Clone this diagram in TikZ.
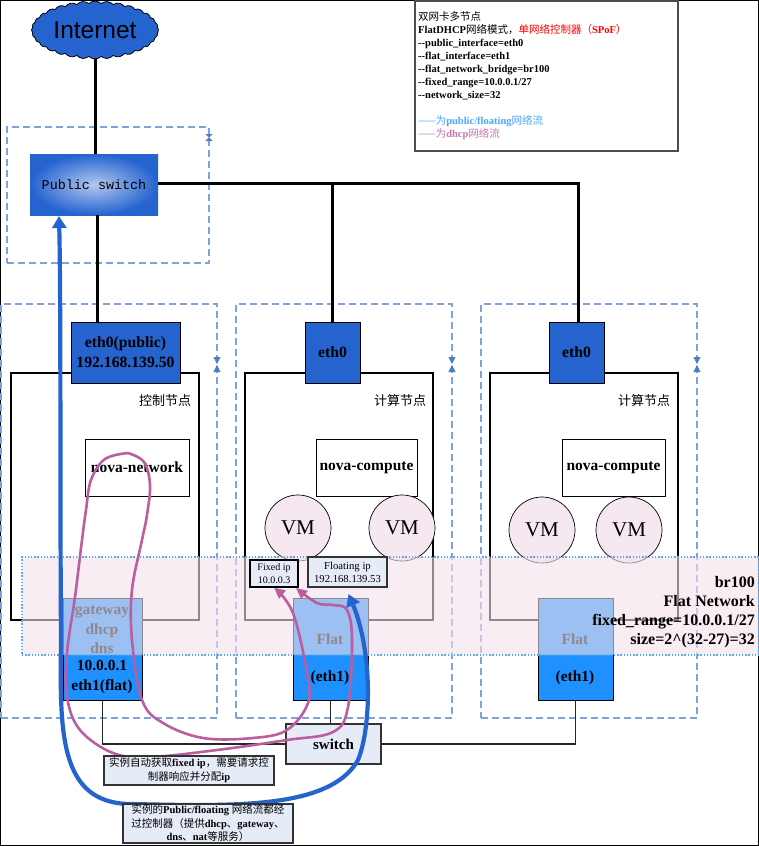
\documentclass[tikz,border=0pt]{standalone}
\usepackage{fontspec}
\setmainfont{Liberation Serif}
\newfontfamily\cjk{Noto Sans CJK SC}
\newfontfamily\monof{Liberation Mono}
\newfontfamily\sansf{Liberation Sans}
\usetikzlibrary{shapes.symbols,arrows.meta}
\definecolor{dblue}{HTML}{2563CF}
\definecolor{lblue}{HTML}{1E90FF}
\definecolor{dashc}{HTML}{7FA2DA}
\definecolor{markc}{HTML}{4A7FC8}
\definecolor{pinkc}{HTML}{B95F9F}
\definecolor{vmc}{HTML}{F5E8F0}
\definecolor{bandc}{HTML}{F2E1EB}
\definecolor{dotc}{HTML}{55AAF5}
\definecolor{notec}{HTML}{E6ECF7}
\newcommand\zh[1]{{\cjk\mdseries #1}}
\tikzset{
 x=1pt,y=-1pt,
 wire/.style={draw=black,line width=3pt},
 thinwire/.style={draw=black!85,line width=1.4pt},
 dashbox/.style={draw=dashc,line width=1.1pt,dash pattern=on 7pt off 4pt,fill=none,inner sep=0pt},
 hostbox/.style={draw=black,line width=1.4pt,fill=none,inner sep=0pt},
 whitebox/.style={draw=black,line width=1pt,fill=white,inner sep=0pt,font=\bfseries\fontsize{15.5}{18}\selectfont},
 ethbox/.style={draw=black,line width=1pt,fill=dblue,inner sep=0pt,align=center,font=\bfseries\fontsize{15.7}{20}\selectfont},
 nicbox/.style={draw=black,line width=1pt,fill=lblue,inner sep=0pt},
 vm/.style={circle,draw=black,line width=.7pt,fill=vmc,inner sep=0pt,minimum size=66pt,font=\fontsize{21}{24}\selectfont},
 notebox/.style={draw=black!80,line width=1.2pt,fill=notec,inner sep=0pt,align=center,font=\fontsize{10.7}{13}\selectfont},
 niclabel/.style={inner sep=0pt,align=center,font=\bfseries\fontsize{15.5}{19.3}\selectfont},
 hostlabel/.style={inner sep=0pt,font=\fontsize{13}{15}\selectfont},
 dhcpflow/.style={draw=pinkc,line width=2.6pt,-{Triangle[length=11pt,width=10pt]}},
 pubflow/.style={draw=dblue,line width=4.2pt,{Triangle[length=12pt,width=14pt]}-{Triangle[length=12pt,width=14pt]}},
}
\begin{document}
\begin{tikzpicture}
\useasboundingbox (0,0) rectangle (759,846);
\fill[white] (0,0) rectangle (759,846);
\draw[black,line width=1.5pt] (0.7,0.7) rectangle (758.3,845.3);
% dashed groups
\node[dashbox,minimum width=202pt,minimum height=136pt] (gpub) at (108,195) {};
\node[dashbox,minimum width=216pt,minimum height=414pt] (g1) at (109,511) {};
\node[dashbox,minimum width=216pt,minimum height=414pt] (g2) at (344,511) {};
\node[dashbox,minimum width=216pt,minimum height=414pt] (g3) at (589,511) {};
\foreach \mx in {217,452,697}{
 \fill[markc] (\mx-3.6,357) -- (\mx+3.6,357) -- (\mx,364) -- cycle;
 \fill[markc] (\mx-3.6,372) -- (\mx+3.6,372) -- (\mx,365) -- cycle;
}
\fill[markc] (205.4,134) -- (212.6,134) -- (209,137.5) -- (212.6,141) -- (205.4,141) -- (209,137.5) -- cycle;
% internet, switch
\node[cloud,cloud puffs=32,cloud puff arc=90,aspect=2.2,draw=black,line width=.8pt,fill=dblue,inner sep=0pt,minimum width=127pt,minimum height=57pt,font=\sansf\fontsize{24.5}{28}\selectfont] (inet) at (95,30) {Internet};
\node[inner sep=0pt,minimum width=128pt,minimum height=61pt] (psw) at (94,184.5) {};
\shade[inner color=white!65!dblue,outer color=dblue] (30,154) rectangle (158,215);
\node[inner sep=0pt,font=\monof\fontsize{13.4}{15}\selectfont] at (psw) {Public switch};
% hosts
\node[hostbox,minimum width=188pt,minimum height=247pt] (h1) at (105,496.5) {};
\node[hostbox,minimum width=188pt,minimum height=247pt] (h2) at (339,496.5) {};
\node[hostbox,minimum width=188pt,minimum height=247pt] (h3) at (584,496.5) {};
\node[hostlabel] (l1) at (165,401) {\zh{控制节点}};
\node[hostlabel] (l2) at (400,401) {\zh{计算节点}};
\node[hostlabel] (l3) at (644,401) {\zh{计算节点}};
% eth0
\node[ethbox,minimum width=109pt,minimum height=61pt] (e1) at (125.5,352.5) {eth0(public)\\192.168.139.50};
\node[ethbox,minimum width=55pt,minimum height=61pt] (e2) at (332.5,352.5) {eth0};
\node[ethbox,minimum width=55pt,minimum height=61pt] (e3) at (576.5,352.5) {eth0};
% services
\node[whitebox,minimum width=104pt,minimum height=57pt] (n1) at (137,467.5) {\raisebox{-1pt}{nova-network}};
\node[whitebox,minimum width=101pt,minimum height=57pt] (n2) at (366.5,467.5) {\raisebox{-1pt}{nova-compute}};
\node[whitebox,minimum width=103pt,minimum height=57pt] (n3) at (613.5,467.5) {\raisebox{-1pt}{nova-compute}};
% VMs
\node[vm] (v1) at (298,528) {VM};
\node[vm] (v2) at (402,528) {VM};
\node[vm] (v3) at (542,530) {VM};
\node[vm] (v4) at (629,530) {VM};
% NICs
\node[nicbox,minimum width=79pt,minimum height=102pt] (gw) at (102.5,649) {};
\node[nicbox,minimum width=75pt,minimum height=102pt] (f2) at (330.5,649) {};
\node[nicbox,minimum width=75pt,minimum height=102pt] (f3) at (575.5,649) {};
\node[niclabel,text=black] (gwt) at (102,630) {gateway\\dhcp\\dns};
\node[niclabel] (gwb) at (102,677) {10.0.0.1\\eth1(flat)};
\node[niclabel] (ft2) at (330,639) {Flat};
\node[niclabel] (fb2) at (330,678) {(eth1)};
\node[niclabel] (ft3) at (575,639) {Flat};
\node[niclabel] (fb3) at (575,678) {(eth1)};
% switch
\node[notebox,minimum width=95pt,minimum height=40pt,font=\bfseries\fontsize{15}{17}\selectfont] (sw) at (333.5,744) {switch};
% wires
\draw[wire] (inet.south) -- (inet.south |- psw.north);
\draw[wire] (psw.east |- 0,183) -| ([xshift=1.5pt]e3.north);
\draw[wire] (e2.north) -- (e2.north |- 0,183);
\draw[wire] (e1.north -| 97,0) -- (psw.south -| 97,0);
\draw[thinwire] (gw.south) |- (sw.west);
\draw[thinwire] (f2.south) -- (f2.south |- sw.north);
\draw[thinwire] (sw.east) -| (f3.south);
% band over the hosts
\node[draw=dotc,line width=1.1pt,dash pattern=on 1.4pt off 1.8pt,fill=bandc,fill opacity=.6,minimum width=737pt,minimum height=98pt,inner sep=0pt] (band) at (390.5,606) {};
\node[inner sep=0pt,anchor=east,align=right,font=\bfseries\fontsize{16}{19}\selectfont] (bandt) at (755,612.5) {br100\\Flat Network\\fixed\_range=10.0.0.1/27\\size=2\textasciicircum(32-27)=32};
% ip labels
\node[notebox,draw=black,font=\fontsize{10}{13}\selectfont,minimum width=48pt,minimum height=27pt] (fix) at (274,573.5) {Fixed ip\\10.0.0.3};
\node[notebox,minimum width=79pt,minimum height=30pt] (flo) at (347.5,572) {Floating ip\\192.168.139.53};
% flows
\coordinate (loop) at (128,453);
\coordinate (tipb) at (296,588);
\coordinate (tipc) at (348.5,594);
\coordinate (tipd) at (59,216);
\draw[dhcpflow] plot[smooth,tension=.6] coordinates {(loop) (144,462) (150,485) (147,515) (142,540) (132,590) (132,640) (142,700) (163,723) (203,738) (253,738) (287,730) (308,703) (307,673) (293,613) (fix.south)};
\draw[dhcpflow] plot[smooth,tension=.6] coordinates {(loop) (105,459) (91,480) (86,510) (82,540) (75,597) (67,653) (67,697) (80,730) (113,753) (150,757) (217,750) (287,740) (333,732) (348,707) (352,640) (347,610) (333,605) (317,603) (tipb)};
\draw[pubflow] (tipd) .. controls (61,300) and (60,500) .. (61,640) .. controls (60,730) and (58,803) .. (130,804) .. controls (230,806) and (330,810) .. (358,760) .. controls (372,725) and (372,650) .. (tipc);
% notes
\node[notebox,minimum width=170pt,minimum height=29pt,font=\fontsize{10.5}{14}\selectfont] (t1) at (189,770.5) {\zh{实例自动获取}\textbf{fixed ip}\zh{，需要请求控}\\\zh{制器响应并分配}\textbf{ip}};
\node[notebox,minimum width=170pt,minimum height=39pt,font=\fontsize{10.5}{13.5}\selectfont] (t2) at (208,823.5) {\zh{实例的}\textbf{Public/floating} \zh{网络流都经}\\\zh{过控制器（提供}\textbf{dhcp}\zh{、}\textbf{gateway}\zh{、}\\\textbf{dns}\zh{、}\textbf{nat}\zh{等服务）}};
% info
\node[draw=black!70,line width=1.2pt,fill=white,minimum width=263pt,minimum height=150pt,inner sep=0pt] (info) at (546.5,76) {};
\node[anchor=north west,inner sep=0pt,align=left,font=\bfseries\fontsize{10.5}{13}\selectfont] (infot) at (418,11.5) {%
\zh{双网卡多节点}\\
FlatDHCP\zh{网络模式，}\textcolor{red}{\zh{单网络控制器（}SPoF\zh{）}}\\
-{}-public\_interface=eth0\\
-{}-flat\_interface=eth1\\
-{}-flat\_network\_bridge=br100\\
-{}-fixed\_range=10.0.0.1/27\\
-{}-network\_size=32\\
\mbox{}\\
\textcolor{lblue!80!white}{\zh{——为}public/floating\zh{网络流}}\\
\textcolor{pinkc!85!white}{\zh{——为}dhcp\zh{网络流}}};
\end{tikzpicture}
\end{document}
